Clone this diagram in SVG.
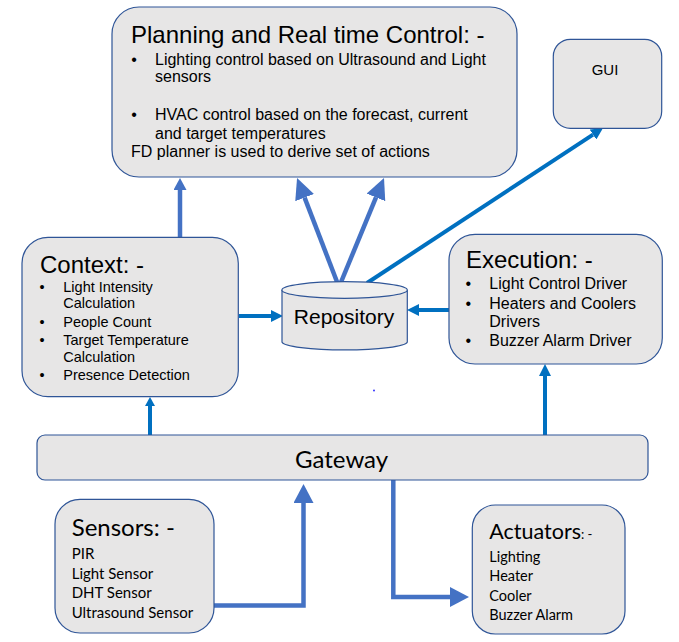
<svg xmlns="http://www.w3.org/2000/svg" width="679" height="642" viewBox="0 0 679 642">
<style>
.box{fill:#E7E6E6;stroke:#2F5597;stroke-width:1.2}
.a{font-family:"Liberation Sans",Arial,sans-serif;fill:#000}
.c{font-family:Lato,"Liberation Sans",sans-serif;fill:#000}
.t{font-size:24px}
.b{font-size:16px}
.s{font-size:14.5px}
.l1{fill:none;stroke:#0070C0;stroke-width:4}
.l2{fill:none;stroke:#4472C4;stroke-width:4.5}
</style>
<defs>
<marker id="hs" markerUnits="userSpaceOnUse" markerWidth="12" markerHeight="12" refX="0" refY="6" orient="auto"><path d="M0,0 L12,6 L0,12 z" fill="#0070C0"/></marker>
<marker id="ht" markerUnits="userSpaceOnUse" markerWidth="9" markerHeight="10" refX="0" refY="5" orient="auto"><path d="M0,0 L9,5 L0,10 z" fill="#0070C0"/></marker>
<marker id="hm" markerUnits="userSpaceOnUse" markerWidth="12" markerHeight="13" refX="0" refY="6.5" orient="auto"><path d="M0,0 L12,6.5 L0,13 z" fill="#4472C4"/></marker>
<marker id="hb" markerUnits="userSpaceOnUse" markerWidth="21" markerHeight="20" refX="0" refY="10" orient="auto"><path d="M0,0 L21,10 L0,20 z" fill="#4472C4"/></marker>
<marker id="hb2" markerUnits="userSpaceOnUse" markerWidth="19" markerHeight="20" refX="0" refY="10" orient="auto"><path d="M0,0 L19,10 L0,20 z" fill="#4472C4"/></marker>
</defs>

<g id="connectors">
<line class="l2" x1="180" y1="237" x2="180" y2="190" marker-end="url(#hm)"/>
<line class="l2" x1="339" y1="287" x2="304.6" y2="197.6" marker-end="url(#hb)"/>
<line class="l2" x1="339" y1="287" x2="376" y2="197.4" marker-end="url(#hb)"/>
<line class="l1" x1="367" y1="283" x2="593" y2="134.6" marker-end="url(#hs)"/>
<line class="l1" x1="239" y1="316" x2="271" y2="316" marker-end="url(#hs)"/>
<line class="l1" x1="449" y1="310" x2="419" y2="310" marker-end="url(#hs)"/>
<line class="l1" x1="150" y1="435" x2="150" y2="406" stroke-width="3" marker-end="url(#ht)"/>
<line class="l1" x1="545" y1="435" x2="545" y2="376" stroke-width="3.5" marker-end="url(#hs)"/>
<polyline class="l2" stroke-width="3.5" points="213,605.5 303.5,605.5 303.5,503" marker-end="url(#hb2)"/>
<polyline class="l2" stroke-width="3.5" points="393.3,480 393.3,597 450,597" marker-end="url(#hb2)"/>
<circle cx="374" cy="390.5" r="0.9" fill="#2020FF"/>
</g>

<g id="planning">
<rect class="box" x="112" y="7" width="405" height="170" rx="27"/>
<text class="a t" x="131" y="43">Planning and Real time Control: -</text>
<text class="a b" x="134" y="65" text-anchor="middle">•</text>
<text class="a b" x="155" y="65">Lighting control based on Ultrasound and Light</text>
<text class="a b" x="155" y="82">sensors</text>
<text class="a b" x="134" y="120" text-anchor="middle">•</text>
<text class="a b" x="155" y="120">HVAC control based on the forecast, current</text>
<text class="a b" x="155" y="139">and target temperatures</text>
<text class="a b" x="131" y="157">FD planner is used to derive set of actions</text>
</g>

<g id="gui">
<rect class="box" x="553.3" y="39.3" width="108.4" height="89" rx="17"/>
<text class="a" font-size="15" x="605" y="75" text-anchor="middle">GUI</text>
</g>

<g id="context">
<rect class="box" x="22" y="237.3" width="216.3" height="159.4" rx="26"/>
<text class="a t" x="40" y="272.7">Context: -</text>
<g class="a s">
<text x="42" y="292.3" text-anchor="middle">•</text>
<text x="63.3" y="292.3">Light Intensity</text>
<text x="63.3" y="308.3">Calculation</text>
<text x="42" y="326.7" text-anchor="middle">•</text>
<text x="63.3" y="326.7">People Count</text>
<text x="42" y="345" text-anchor="middle">•</text>
<text x="63.3" y="345">Target Temperature</text>
<text x="63.3" y="361.7">Calculation</text>
<text x="42" y="380" text-anchor="middle">•</text>
<text x="63.3" y="380">Presence Detection</text>
</g>
</g>

<g id="repository">
<path class="box" d="M282,290 L282,342 A62.7,8.3 0 0 0 407.3,342 L407.3,290"/>
<ellipse cx="344.6" cy="290" rx="62.7" ry="8.3" fill="#EFEFEF" stroke="#2F5597" stroke-width="1.2"/>
<text class="a" font-size="21" x="344" y="324" text-anchor="middle">Repository</text>
</g>

<g id="execution">
<rect class="box" x="449" y="234.3" width="213.3" height="129.7" rx="26"/>
<text class="a t" x="466" y="268.3">Execution: -</text>
<g class="a b">
<text x="468.3" y="289.3" text-anchor="middle">•</text>
<text x="489.3" y="289.3">Light Control Driver</text>
<text x="468.3" y="309.3" text-anchor="middle">•</text>
<text x="489.3" y="309.3">Heaters and Coolers</text>
<text x="489.3" y="327.3">Drivers</text>
<text x="468.3" y="346" text-anchor="middle">•</text>
<text x="489.3" y="346">Buzzer Alarm Driver</text>
</g>
</g>

<g id="gateway">
<rect class="box" x="37" y="435" width="611" height="45" rx="8"/>
<text class="c" font-size="24" x="341.6" y="468" text-anchor="middle">Gateway</text>
</g>

<g id="sensors">
<rect class="box" x="55" y="499.3" width="159" height="133.7" rx="25"/>
<text class="c" font-size="24" x="71.7" y="536">Sensors: -</text>
<g class="c" font-size="15">
<text x="71.7" y="559.3">PIR</text>
<text x="71.7" y="579">Light Sensor</text>
<text x="71.7" y="598.3">DHT Sensor</text>
<text x="71.7" y="617.7">Ultrasound Sensor</text>
</g>
</g>

<g id="actuators">
<rect class="box" x="472.3" y="505" width="152.7" height="129" rx="23"/>
<text class="c" x="489.3" y="539.3"><tspan font-size="21.5">Actuators</tspan><tspan font-size="13">: -</tspan></text>
<g class="c" font-size="14.5">
<text x="489.3" y="561.7">Lighting</text>
<text x="489.3" y="581">Heater</text>
<text x="489.3" y="600.7">Cooler</text>
<text x="489.3" y="620">Buzzer Alarm</text>
</g>
</g>
</svg>
